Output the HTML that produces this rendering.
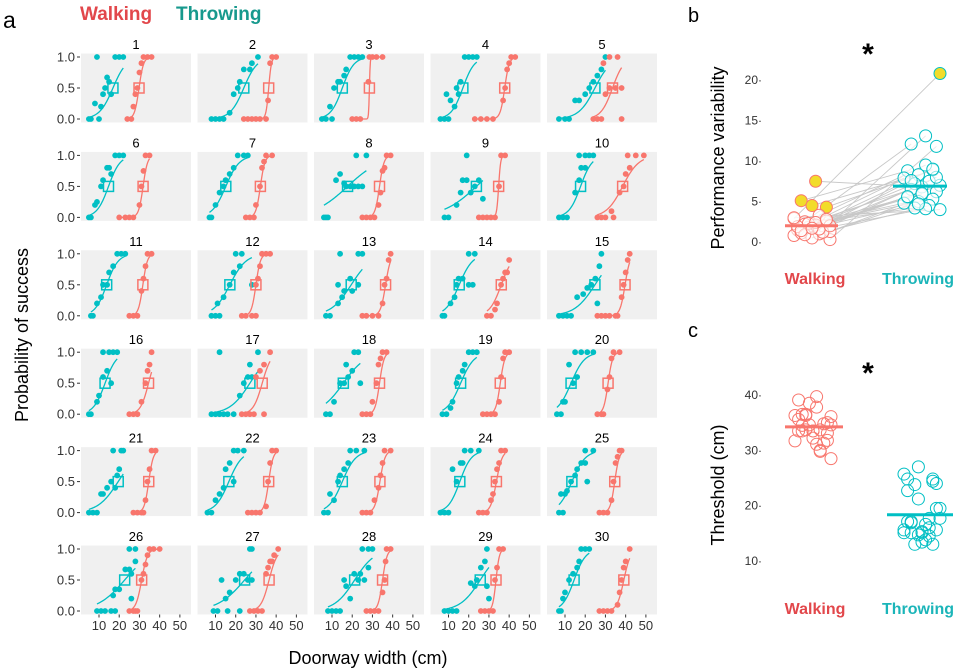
<!DOCTYPE html>
<html><head><meta charset="utf-8"><style>
html,body{margin:0;padding:0;background:#fff}
svg{display:block;font-family:"Liberation Sans",Arial,sans-serif}
</style></head><body>
<svg id="chart" width="960" height="672" viewBox="0 0 960 672">
<text x="3" y="28" font-size="23">a</text>
<text x="80" y="20" font-size="19" font-weight="bold" fill="#e2474b">Walking</text>
<text x="176" y="20" font-size="19" font-weight="bold" fill="#17998d">Throwing</text>
<text transform="translate(28,335) rotate(-90)" text-anchor="middle" font-size="18">Probability of success</text>
<text x="368" y="664" text-anchor="middle" font-size="18">Doorway width (cm)</text>
<g id="facets"></g>
<g id="pb"></g>
<g id="pc"></g>
</svg>
<script>
const walkThr=[29.8,36.3,28.5,37.8,33.5,31.8,32.2,33.5,34.8,38.5,31.7,30.0,36.5,36.1,39.7,34.5,33.1,33.5,35.6,31.3,34.6,36.3,33.7,33.7,34.6,31.1,36.5,35.0,33.5,39.1];
const throwThr=[16.9,24.0,15.1,17.1,24.8,14.7,15.1,17.7,23.8,17.7,13.8,17.1,19.5,15.3,24.8,13.0,27.0,15.6,16.0,13.0,19.5,16.6,15.1,15.6,13.4,22.7,24.4,21.2,25.7,14.5];
const walkK=[0.9,1.5,5,0.9,0.35,0.9,0.9,0.9,2,0.25,0.9,0.9,0.8,0.35,0.8,0.5,0.45,0.9,0.9,0.9,0.9,0.9,0.8,0.7,0.9,0.7,0.5,0.9,1.2,0.6];
const throwK=[0.3,0.3,0.35,0.35,0.25,0.35,0.3,0.12,0.12,0.35,0.35,0.25,0.2,0.3,0.2,0.35,0.2,0.18,0.3,0.3,0.2,0.3,0.3,0.35,0.3,0.15,0.15,0.2,0.2,0.35];
const throwDots=[
"5:0 6:0 10:0 8:0.25 11:0.2 12:0.4 13:0.5 14:0.67 15:0.6 16:0.4 9:1 18:1 20:1 22:1",
"8:0 10:0 12:0 14:0 17:0.1 19:0.4 21:0.5 22:0.6 24:0.8 27:0.8 28:0.9 31:1",
"5:0 7:0 10:0 9:0.2 11:0.5 13:0.6 14:0.6 16:0.7 17:0.8 19:1 21:1 23:1 25:1",
"6:0 8:0 10:0 9:0.4 11:0.3 13:0.2 14:0.5 16:0.6 15:0.4 18:1 20:1 22:1 24:1",
"7:0 10:0 12:0 15:0.3 17:0.3 20:0.4 22:0.5 24:0.6 26:0.7 28:0.8 30:1",
"5:0 6:0 8:0.2 9:0.25 11:0.5 12:0.6 14:0.8 15:0.8 16:0.7 18:1 20:1 22:1",
"7:0 8:0 10:0.2 12:0.4 14:0.5 15:0.6 17:0.7 19:0.8 21:1 24:1 26:1",
"6:0 7:0 8:0 12:0.6 14:0.7 16:0.55 17:0.5 19:0.5 21:0.5 23:0.5 25:0.5 22:1 27:1",
"8:0 10:0 14:0.2 16:0.4 17:0.6 19:0.6 21:0.4 23:0.5 25:0.6 27:0.3 19:1",
"7:0 9:0 11:0 15:0.4 17:0.6 18:0.8 20:0.8 17:1 20:1 22:1 24:1",
"6:0 7:0 9:0.2 11:0.3 12:0.5 14:0.5 15:0.7 17:0.8 19:1 21:1 23:1",
"8:0 10:0 12:0 11:0.2 14:0.3 17:0.5 19:0.7 22:0.8 20:1 23:1 28:0.5",
"7:0 9:0 13:0.2 15:0.3 16:0.4 19:0.6 20:0.4 23:0.5 13:0.5 14:1 23:1 25:1",
"7:0 8:0 11:0.2 13:0.3 14:0.5 15:0.6 17:0.6 20:0.5 22:0.5 20:1 23:1",
"7:0 9:0 11:0 13:0 16:0.3 19:0.35 21:0.45 23:0.5 25:0.6 27:0.8 26:0.2 28:1",
"5:0 6:0 9:0.2 10:0.3 12:0.6 14:0.7 16:0.5 12:1 15:1 17:1 19:1",
"8:0 10:0 12:0 14:0 16:0 19:0 22:0.3 24:0.5 26:0.6 28:0.6 27:0.8 12:1 31:1",
"7:0 9:0 11:0.2 14:0.5 16:0.5 18:0.6 17:0.8 20:0.7 24:0.5 21:1 23:1",
"7:0 9:0 11:0.1 12:0.2 14:0.5 15:0.6 17:0.7 18:0.8 20:1 22:1 24:1",
"6:0 8:0 9:0.2 10:0.2 14:0.5 16:0.6 12:0.8 15:1 18:1 21:1 24:1",
"5:0 7:0 9:0 11:0.3 12:0.3 14:0.4 16:0.5 18:0.4 19:0.6 20:0.7 17:1 21:1 22:1",
"6:0 8:0 10:0.2 12:0.3 14:0.4 15:0.7 17:0.8 19:0.5 19:1 21:1 24:1",
"6:0 8:0 9:0.3 11:0.2 13:0.5 14:0.6 16:0.7 18:0.8 19:1 22:1 26:1",
"6:0 8:0 10:0 12:0.7 14:0.5 16:0.8 17:0.8 18:1 21:1 25:1",
"7:0 9:0 8:0.3 10:0.3 11:0.35 13:0.5 15:0.6 16:0.7 18:0.8 20:0.8 21:0.5 20:1 24:1",
"9:0 11:0 13:0 16:0 18:0 17:0.25 18:0.35 20:0.35 23:0.67 25:0.67 26:0.2 26:0.6 28:0.8 25:1 28:1",
"9:0 11:0 16:0 22:0 13:0.5 15:0.2 17:0.3 20:0.5 22:0.6 24:0.6 26:0.5 28:0.5 27:1 28:1",
"8:0 10:0 12:0 14:0 16:0.5 17:0.4 19:0.2 21:0.6 23:0.5 24:0.6 26:0.5 28:0.7 25:1 28:1 30:1",
"8:0 10:0 12:0 14:0 21:0.45 23:0.4 24:0.5 26:0.7 28:0.8 29:0.4 30:0.2 29:1",
"7:0 8:0 9:0.2 10:0.3 12:0.5 14:0.6 16:0.7 17:0.8 18:1 20:1 22:1"];
const walkDots=[
"24:0 26:0 27:0.2 28:0.4 29:0.5 30:0.75 31:0.9 32:1 34:1 36:1",
"24:0 26:0 28:0 30:0 32:0 35:0 36:0.3 37:0.9 38:1 40:1",
"20:0 22:0 24:0 28:0.6 28.5:1 30:1 32:1 35:1",
"23:0 26:0 29:0 32:0 37:0.3 38:0.5 39:0.8 40:0.9 41:1 43:1",
"24:0 26:0 28:0 38:0 30:0.4 32:0.5 35:0.5 38:0.5 29:0.9 32:1 36:1",
"20:0 23:0 25:0 27:0 30:0.2 31:0.5 32:0.75 33:1 35:1",
"25:0 27:0 29:0 30:0.2 32:0.5 33:0.8 34:0.9 35:1 38:1",
"25:0 27:0 29:0 31:0 33:0.2 34:0.4 35:0.75 36:0.8 37:1 39:1",
"25:0 27:0 29:0 31:0 33:0 35:0.5 36:1 38:1",
"26:0 28:0 30:0 34:0 33:0.1 37:0.4 39:0.5 40:0.7 42:0.8 45:1 41:1 49:1",
"25:0 27:0 29:0 31:0.4 32:0.6 33:0.8 34:1 36:1",
"23:0 25:0 28:0 30:0 30:0.5 31:0.6 32:0.8 33:1 35:1 37:1",
"25:0 27:0 30:0 33:0 35:0.2 36:0.5 37:0.6 38:0.9 39:1",
"29:0 31:0 33:0.1 34:0.2 36:0.5 37:0.6 38:0.7 39:0.7 40:0.9",
"26:0 28:0 30:0 32:0 35:0 36:0 38:0.3 39:0.5 40:0.7 41:0.9 42:1",
"25:0 27:0 29:0 31:0.2 33:0.5 34:0.7 35:0.8 36:1",
"23:0 25:0 27:0 29:0 34:0 30:0.6 32:0.7 34:0.8 37:1",
"25:0 27:0 29:0 30:0.2 32:0.5 33:0.8 34:0.9 35:1 37:1",
"27:0 29:0 31:0 33:0 35:0.2 36:0.6 37:0.9 38:1 40:1",
"26:0 28:0 29:0 31:0.4 32:0.6 33:0.9 34:1 37:1",
"27:0 29:0 31:0 32:0 33:0.2 34:0.5 35:0.7 36:1 38:1",
"26:0 28:0 30:0 32:0 35:0.1 36:0.5 37:0.8 38:1 40:1",
"25:0 27:0 29:0 31:0.2 33:0.4 34:0.6 35:0.8 36:1 39:1",
"25:0 27:0 29:0 31:0.2 32:0.3 33:0.5 34:0.7 35:0.8 36:1 38:1",
"27:0 29:0 31:0 33:0.2 34:0.5 35:0.8 36:0.9 37:1 38:1",
"25:0 27:0 28:0 29:0 31:0.5 32:0.6 33:0.75 34:0.9 35:1 37:1 40:1",
"27:0 29:0 31:0 33:0 35:0.6 36:0.7 37:0.8 38:0.8 39:0.9 41:1",
"27:0 29:0 31:0 33:0 35:0.3 36:0.5 36.5:0.8 37:1 39:1",
"26:0 28:0 30:0 32:0 33:0.5 34:0.7 35:1 37:1",
"27:0 29:0 31:0 33:0 36:0.1 37:0.3 38:0.5 39:0.7 40:0.8 42:1"];
const xTicks=[10,20,30,40,50];
const yTicks=[0,0.5,1];
const walkVar=[2.9,1.0,2.5,0.3,7.5,5.1,4.3,4.5,1.5,2.0,1.8,0.8,3.3,2.2,1.3,2.1,1.1,2.6,0.5,1.9,1.2,2.3,3.0,1.6,0.9,2.0,2.4,1.4,2.8,1.7];
const throwVar=[20.8,13.1,12.1,11.8,6.8,8.8,8.9,8.3,7.9,7.5,7.2,7.0,9.5,6.5,6.2,5.9,5.5,5.3,5.0,4.8,4.5,4.2,4.0,4.1,7.6,8.0,6.0,5.6,9.0,4.7];
const walkYellow=[0,0,0,0,1,1,1,1,0,0,0,0,0,0,0,0,0,0,0,0,0,0,0,0,0,0,0,0,0,0];
const throwYellow=[1,0,0,0,0,0,0,0,0,0,0,0,0,0,0,0,0,0,0,0,0,0,0,0,0,0,0,0,0,0];
const bTicks=[0,5,10,15,20];
const cTicks=[10,20,30,40];

const NS="http://www.w3.org/2000/svg";
function mk(tag,attrs,parent,txt){const e=document.createElementNS(NS,tag);for(const k in attrs)e.setAttribute(k,attrs[k]);if(txt!==undefined)e.textContent=txt;parent.appendChild(e);return e;}
const RED="#F8766D",TEAL="#00BFC4";
function parse(s){return s.split(" ").map(p=>p.split(":").map(Number));}
const facets=document.getElementById("facets");
for(let i=0;i<30;i++){
  const c=i%5,r=Math.floor(i/5);
  const L=81+c*116.5,W=110,y1=57+r*98.4,y0=y1+62;
  const sx=v=>L+(v-1.1)*W/54.4;
  const sy=p=>y0-(y0-y1)*p;
  const g=mk("g",{},facets);
  
  
  const bg=mk("rect",{x:L,y:y1-3.5,width:W,height:69,fill:"#f0f0f0"},g);
  
  
  const t=mk("text",{x:L+W/2,y:y1-8,"text-anchor":"middle","font-size":13},g,String(i+1));
  
  
  if(c===0){for(const v of yTicks){
    const lb=mk("text",{x:75,y:sy(v)+4.5,"text-anchor":"end","font-size":13,fill:"#333"},g,v.toFixed(1));
    
    
    mk("line",{x1:77,x2:80,y1:sy(v),y2:sy(v),stroke:"#333"},g);
  }}
  if(r===5){for(const v of xTicks){
    mk("line",{x1:sx(v),x2:sx(v),y1:y0+3.5,y2:y0+6.5,stroke:"#333"},g);
    const lb=mk("text",{x:sx(v),y:y0+19,"text-anchor":"middle","font-size":13,fill:"#333"},g,String(v));
    
    
  }}
  const series=[[throwDots[i],throwThr[i],throwK[i],TEAL,'throwing'],[walkDots[i],walkThr[i],walkK[i],RED,'walking']];
  for(const [ds,thr,k,col,nm] of series){
    const pts=parse(ds);
    const xs=pts.map(p=>p[0]);
    const lo=Math.min(...xs),hi=Math.max(...xs);
    let d="";
    for(let s=0;s<=60;s++){const v=lo+(hi-lo)*s/60;const p=1/(1+Math.exp(-k*(v-thr)));d+=(s?"L":"M")+sx(v).toFixed(2)+","+sy(p).toFixed(2);}
    const ln=mk("path",{d:d,fill:"none",stroke:col,"stroke-width":1.3},g);
    
    
    for(const [x,y] of pts){
      const dt=mk("circle",{cx:sx(x),cy:sy(y),r:2.9,fill:col},g);
      
      
    }
    const sq=mk("rect",{x:sx(thr)-5,y:sy(0.5)-5,width:10,height:10,fill:"none",stroke:col,"stroke-width":1.5},g);
    
    
  }
}
function jit(i){return ((i*7)%11-5)*3.6;}
// panel b
const pb=document.getElementById("pb");
const byS=v=>242-v*8.1;
mk("text",{x:688,y:22,"font-size":20},pb,"b");
mk("text",{x:868,y:64,"text-anchor":"middle","font-size":30,"font-weight":"bold"},pb,"*");
mk("text",{transform:"translate(724,158) rotate(-90)","text-anchor":"middle","font-size":18},pb,"Performance variability");
for(const v of bTicks){const t=mk("text",{x:762,y:byS(v)+4,"text-anchor":"end","font-size":12,fill:"#333"},pb,v+"·");}
const bwx=i=>812+jit(i),btx=i=>922+jit(i+3);
for(let i=0;i<30;i++){const l=mk("line",{x1:bwx(i),y1:byS(walkVar[i]),x2:btx(i),y2:byS(throwVar[i]),stroke:"#c8c8c8","stroke-width":0.9},pb);}
for(let i=0;i<30;i++){
  const a=mk("circle",{cx:bwx(i),cy:byS(walkVar[i]),r:6,fill:walkYellow[i]?"#f2dc2a":"#fff","fill-opacity":walkYellow[i]?1:0.6,stroke:RED,"stroke-width":1},pb);
  
  const b=mk("circle",{cx:btx(i),cy:byS(throwVar[i]),r:6,fill:throwYellow[i]?"#f2dc2a":"#fff","fill-opacity":throwYellow[i]?1:0.6,stroke:TEAL,"stroke-width":1},pb);
  
}
const med=a=>{const s=[...a].sort((x,y)=>x-y);return (s[14]+s[15])/2;};
mk("line",{x1:785,x2:838,y1:byS(med(walkVar)),y2:byS(med(walkVar)),stroke:RED,"stroke-width":3},pb);
mk("line",{x1:893,x2:947,y1:byS(med(throwVar)),y2:byS(med(throwVar)),stroke:TEAL,"stroke-width":3},pb);
mk("text",{x:815,y:284,"text-anchor":"middle","font-size":16,"font-weight":"bold",fill:"#e2474b"},pb,"Walking");
mk("text",{x:918,y:284,"text-anchor":"middle","font-size":16,"font-weight":"bold",fill:"#1bb5b9"},pb,"Throwing");
// panel c
const pc=document.getElementById("pc");
const cyS=v=>395-(v-40)*5.53;
mk("text",{x:688,y:337,"font-size":20},pc,"c");
mk("text",{x:868,y:383,"text-anchor":"middle","font-size":30,"font-weight":"bold"},pc,"*");
mk("text",{transform:"translate(724,485) rotate(-90)","text-anchor":"middle","font-size":18},pc,"Threshold (cm)");
for(const v of cTicks){const t=mk("text",{x:762,y:cyS(v)+4,"text-anchor":"end","font-size":12,fill:"#333"},pc,v+"·");}
const mean=a=>a.reduce((s,v)=>s+v,0)/a.length;
for(let i=0;i<30;i++){
  const a=mk("circle",{cx:813+jit(i+1),cy:cyS(walkThr[i]),r:6,fill:"none",stroke:RED,"stroke-width":1},pc);
  
  const b=mk("circle",{cx:922+jit(i+5),cy:cyS(throwThr[i]),r:6,fill:"none",stroke:TEAL,"stroke-width":1},pc);
  
}
mk("line",{x1:785,x2:843,y1:cyS(mean(walkThr)),y2:cyS(mean(walkThr)),stroke:RED,"stroke-width":3},pc);
mk("line",{x1:887,x2:953,y1:cyS(mean(throwThr)),y2:cyS(mean(throwThr)),stroke:TEAL,"stroke-width":3},pc);
mk("text",{x:815,y:614,"text-anchor":"middle","font-size":16,"font-weight":"bold",fill:"#e2474b"},pc,"Walking");
mk("text",{x:918,y:614,"text-anchor":"middle","font-size":16,"font-weight":"bold",fill:"#1bb5b9"},pc,"Throwing");
</script>
</body></html>
